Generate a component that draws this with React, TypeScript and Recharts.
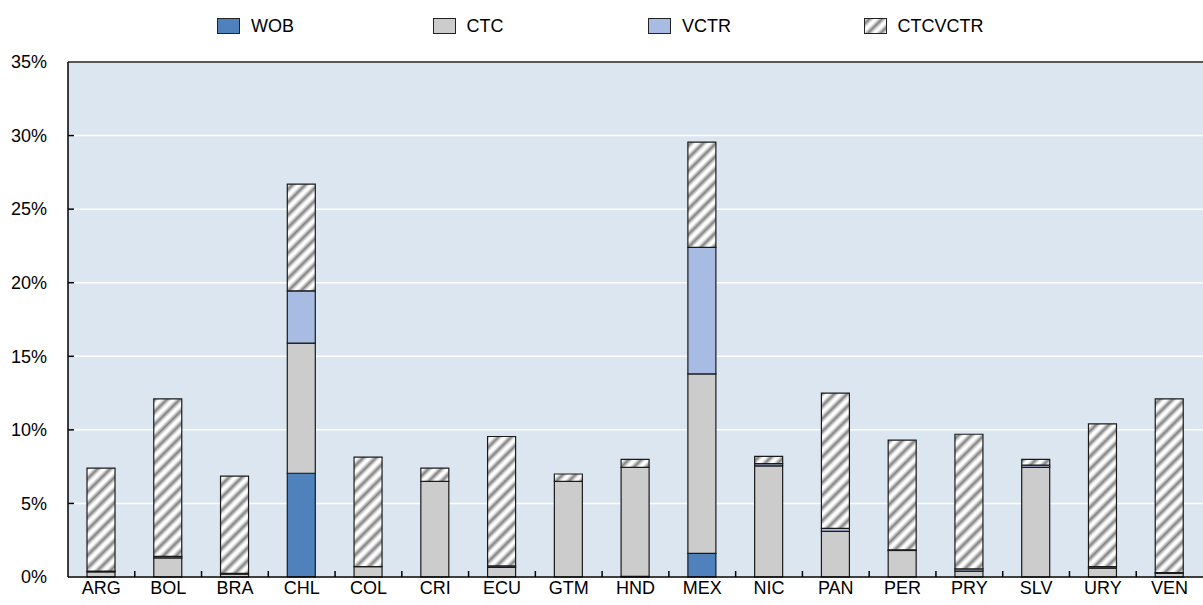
import React from "react";
import {
  BarChart,
  Bar,
  XAxis,
  YAxis,
  CartesianGrid,
  Legend,
  ReferenceLine,
} from "recharts";

const categories = ["ARG", "BOL", "BRA", "CHL", "COL", "CRI", "ECU", "GTM", "HND", "MEX", "NIC", "PAN", "PER", "PRY", "SLV", "URY", "VEN"];
const wob = [0, 0, 0, 7.05, 0, 0, 0, 0, 0.05, 1.6, 0, 0, 0, 0, 0, 0, 0];
const ctc = [0.35, 1.3, 0.2, 8.85, 0.7, 6.5, 0.65, 6.5, 7.4, 12.2, 7.55, 3.1, 1.8, 0.4, 7.45, 0.6, 0.25];
const vctr = [0.05, 0.1, 0.05, 3.55, 0, 0, 0.1, 0, 0, 8.6, 0.15, 0.2, 0.05, 0.15, 0.15, 0.1, 0.05];
const ctcvctr = [7.0, 10.7, 6.6, 7.25, 7.45, 0.9, 8.8, 0.5, 0.55, 7.15, 0.5, 9.2, 7.45, 9.15, 0.4, 9.7, 11.8];
const yTicks = [0, 5, 10, 15, 20, 25, 30, 35];

const seriesNames = ["WOB", "CTC", "VCTR", "CTCVCTR"];
const colors = ["#4f81bd", "#cccccc", "#a8bbe3", "url(#hatch)"];

const data = categories.map((name, i) => ({
  name,
  WOB: wob[i],
  CTC: ctc[i],
  VCTR: vctr[i],
  CTCVCTR: ctcvctr[i],
}));

const W = 1203;
const H = 605;
const Y_AXIS_W = 68;
const LEGEND_H = 40;
const FONT = "'Liberation Sans', Arial, sans-serif";
const band = (W - Y_AXIS_W) / categories.length;

const HatchDefs = ({ id }: { id: string }) => (
  <defs>
    <linearGradient id={id + "-g"} x1="0" y1="0" x2="1" y2="0">
      <stop offset="0" stopColor="#ffffff" />
      <stop offset="0.12" stopColor="#ffffff" />
      <stop offset="0.5" stopColor="#828282" />
      <stop offset="0.88" stopColor="#ffffff" />
      <stop offset="1" stopColor="#ffffff" />
    </linearGradient>
    <pattern id={id} patternUnits="userSpaceOnUse" width="9" height="9" patternTransform="rotate(45)">
      <rect x="0" y="0" width="9" height="9" fill={`url(#${id}-g)`} />
    </pattern>
  </defs>
);

const XTick = (props: any) => {
  const { x, y, payload, index } = props;
  return (
    <g>
      <text x={x} y={y} dy="0.71em" textAnchor="middle" fontSize={18} fill="#000" fontFamily={FONT}>
        {payload.value}
      </text>
      {index < categories.length - 1 && (
        <line x1={x + band / 2} x2={x + band / 2} y1={y - 4} y2={y - 10} stroke="#000" strokeWidth={1.5} />
      )}
    </g>
  );
};

const YTick = (props: any) => {
  const { x, y, payload } = props;
  return (
    <g>
      <text x={x} y={y} dy="0.35em" textAnchor="end" fontSize={18} fill="#000" fontFamily={FONT}>
        {payload.value}%
      </text>
      {payload.value > 0 && payload.value < 35 && (
        <line x1={x + 21} x2={x + 27} y1={y} y2={y} stroke="#000" strokeWidth={1.5} />
      )}
    </g>
  );
};

const LegendContent = () => (
  <div style={{ position: "relative", height: LEGEND_H, width: W, fontFamily: FONT, fontSize: 18 }}>
    {seriesNames.map((s, i) => (
      <div
        key={s}
        style={{ position: "absolute", left: 217 + i * 215.5, top: 18, height: 16, display: "flex", alignItems: "center" }}
      >
        <svg width={23} height={16} style={{ marginRight: 11 }}>
          {i === 3 && <HatchDefs id="hatch-legend" />}
          <rect
            x={0.5}
            y={0.5}
            width={22}
            height={15}
            fill={i === 3 ? "url(#hatch-legend)" : colors[i]}
            stroke="#222"
            strokeWidth={1}
          />
        </svg>
        <span style={{ lineHeight: "16px" }}>{s}</span>
      </div>
    ))}
  </div>
);

const App: React.FC = () => {
  return (
    <div style={{ position: "absolute", left: 0, top: 0, background: "#fff" }}>
      <BarChart
        width={W}
        height={H}
        data={data}
        margin={{ top: 62 - LEGEND_H, right: 0, left: 0, bottom: 0 }}
        barSize={28}
      >
        <HatchDefs id="hatch" />
        <CartesianGrid fill="#dce6f1" stroke="#ffffff" strokeWidth={1.5} vertical={false} />
        <XAxis
          dataKey="name"
          height={28}
          tickLine={false}
          tickSize={0}
          tickMargin={4}
          tick={<XTick />}
          axisLine={{ stroke: "#000", strokeWidth: 1.5 }}
          interval={0}
        />
        <YAxis
          width={Y_AXIS_W}
          domain={[0, 35]}
          ticks={yTicks}
          tickLine={false}
          tickSize={0}
          tickMargin={21}
          tick={<YTick />}
          axisLine={{ stroke: "#000", strokeWidth: 1.5 }}
          interval={0}
        />
        <ReferenceLine y={35} stroke="#222" strokeWidth={1.5} />
        <Legend
          verticalAlign="top"
          height={LEGEND_H}
          wrapperStyle={{ top: 0, left: 0 }}
          content={<LegendContent />}
        />
        {seriesNames.map((s, i) => (
          <Bar
            key={s}
            dataKey={s}
            stackId="a"
            fill={colors[i]}
            stroke="#1a1a1a"
            strokeWidth={1.2}
            isAnimationActive={false}
          />
        ))}
      </BarChart>
    </div>
  );
};

export default App;
